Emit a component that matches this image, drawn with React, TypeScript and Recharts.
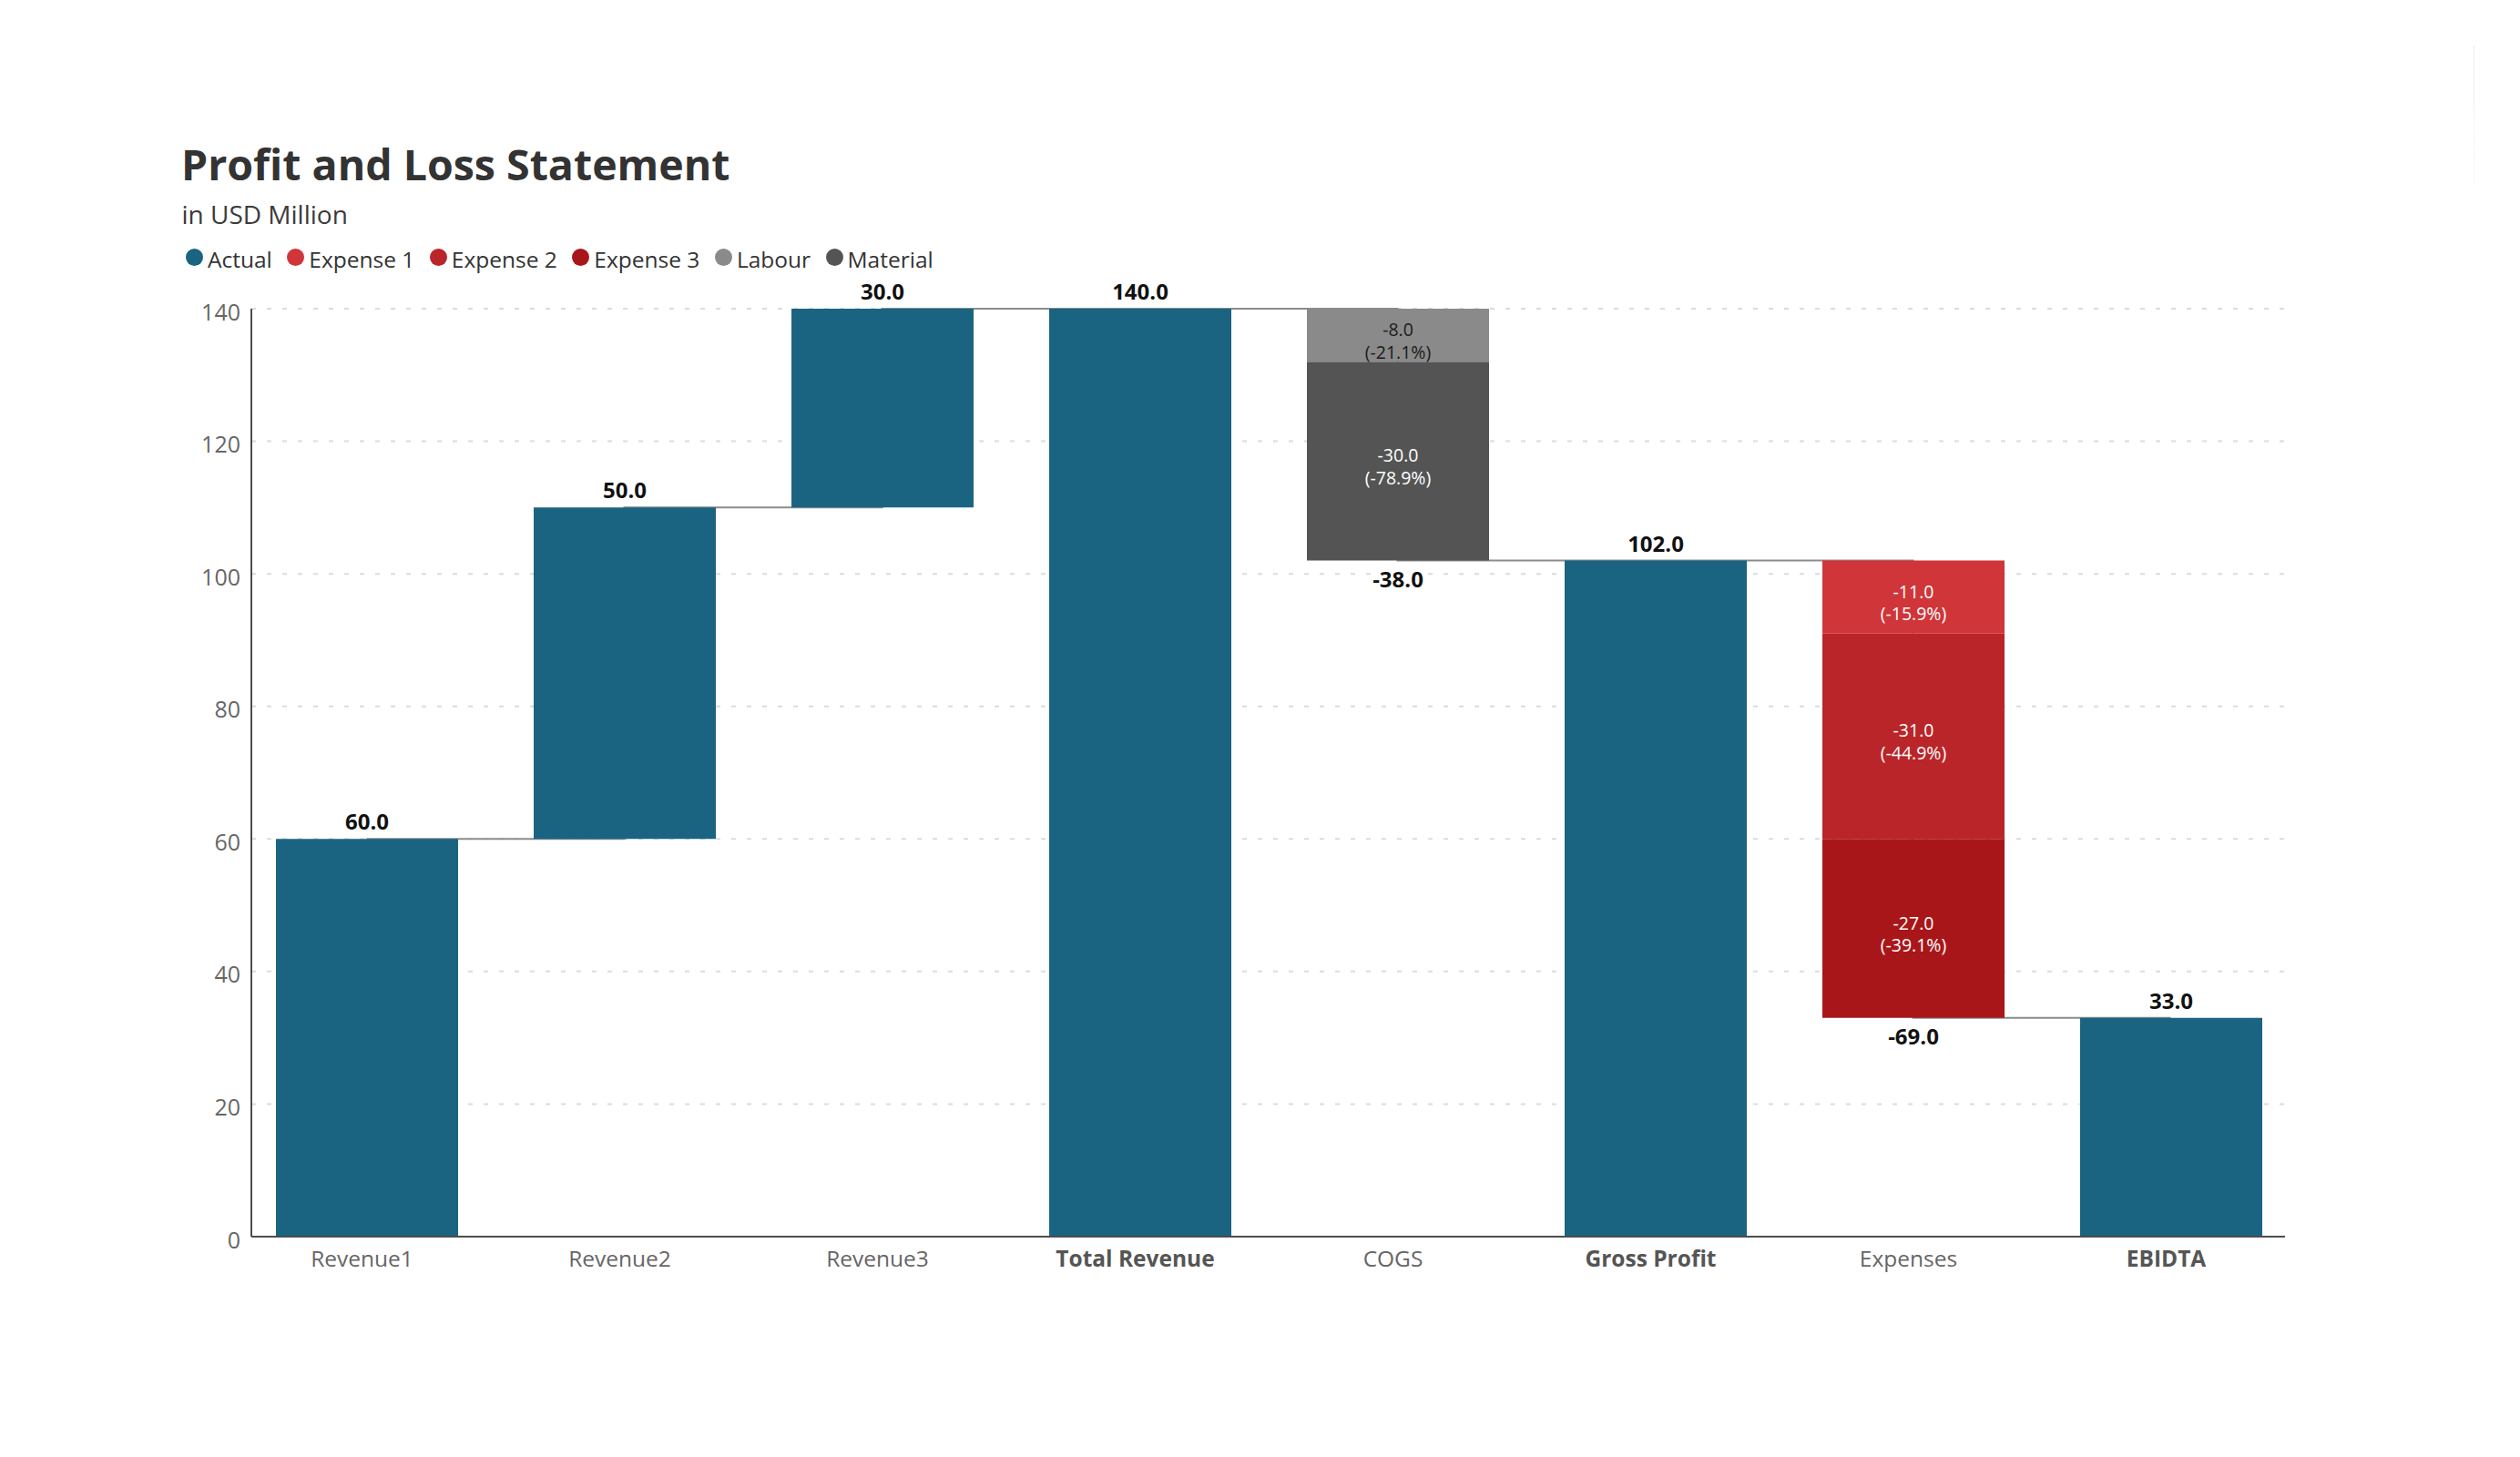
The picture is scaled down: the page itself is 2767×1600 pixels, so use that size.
import { ComposedChart, Bar, Line, XAxis, YAxis, CartesianGrid, LabelList } from 'recharts';

const categories = ['Revenue1', 'Revenue2', 'Revenue3', 'Total Revenue', 'COGS', 'Gross Profit', 'Expenses', 'EBIDTA'];
const totalCategories = ['Total Revenue', 'Gross Profit', 'EBIDTA'];
const actualValues = [60, 50, 30, 140, 0, 102, 0, 33];
const labourValues = [0, 0, 0, 0, -8, 0, 0, 0];
const materialValues = [0, 0, 0, 0, -30, 0, 0, 0];
const expense1Values = [0, 0, 0, 0, 0, 0, -11, 0];
const expense2Values = [0, 0, 0, 0, 0, 0, -31, 0];
const expense3Values = [0, 0, 0, 0, 0, 0, -27, 0];
const yTicks = [0, 20, 40, 60, 80, 100, 120, 140];

const series = [
  { key: 'actual', name: 'Actual', color: '#1a6482' },
  { key: 'expense1', name: 'Expense 1', color: '#cf3539' },
  { key: 'expense2', name: 'Expense 2', color: '#ba2529' },
  { key: 'expense3', name: 'Expense 3', color: '#a91619' },
  { key: 'labour', name: 'Labour', color: '#8a8a8a' },
  { key: 'material', name: 'Material', color: '#545454' },
];
const colorOf = (k: string) => series.find((s) => s.key === k)!.color;

// share of the category's total drop, as "-8.0\n(-21.1%)"
const segText = (v: number, drop: number) =>
  v ? `${v.toFixed(1)}\n(${(-(v / drop) * 100).toFixed(1)}%)` : undefined;

// running totals for the waterfall
const rows = (() => {
  let level = 0;
  return categories.map((name, i) => {
    const segs = [materialValues[i], labourValues[i], expense3Values[i], expense2Values[i], expense1Values[i]];
    const drop = segs.reduce((a, b) => a + b, 0);
    let base = 0;
    if (totalCategories.includes(name)) {
      level = actualValues[i];
    } else if (actualValues[i] > 0) {
      base = level;
      level += actualValues[i];
    } else {
      level += drop;
      base = level;
    }
    return {
      name,
      base,
      actual: actualValues[i],
      material: -materialValues[i],
      labour: -labourValues[i],
      expense3: -expense3Values[i],
      expense2: -expense2Values[i],
      expense1: -expense1Values[i],
      dropText: drop < 0 ? drop.toFixed(1) : undefined,
      materialText: segText(materialValues[i], drop),
      labourText: segText(labourValues[i], drop),
      expense3Text: segText(expense3Values[i], drop),
      expense2Text: segText(expense2Values[i], drop),
      expense1Text: segText(expense1Values[i], drop),
      level,
    };
  });
})();

const FONT = '"Segoe UI", "Open Sans", sans-serif';

function box(p: any) {
  const vb = p.viewBox || {};
  return {
    x: p.x ?? vb.x,
    y: p.y ?? vb.y,
    w: p.width ?? vb.width,
    h: p.height ?? vb.height,
  };
}

function ActualLabel(p: any) {
  const v = Number(p.value);
  if (!v) return null;
  const { x, y, w } = box(p);
  return (
    <text x={x + w / 2} y={y - 10} textAnchor="middle" fontSize={24} fontWeight={700} fill="#111">
      {v.toFixed(1)}
    </text>
  );
}

function DropLabel(p: any) {
  if (p.value === undefined || p.value === null || p.value === '') return null;
  const { x, y, w } = box(p);
  return (
    <text x={x + w / 2} y={y + 29} textAnchor="middle" fontSize={24} fontWeight={700} fill="#111">
      {p.value}
    </text>
  );
}

function segmentLabel(fill: string) {
  return (p: any) => {
    if (typeof p.value !== 'string') return null;
    const [a, b] = p.value.split('\n');
    const { x, y, w, h } = box(p);
    const cx = x + w / 2;
    const cy = y + h / 2;
    return (
      <g>
        <text x={cx} y={cy + 1} textAnchor="middle" fontSize={19.5} fill={fill}>
          {a}
        </text>
        <text x={cx} y={cy + 25.5} textAnchor="middle" fontSize={19.5} fill={fill}>
          {b}
        </text>
      </g>
    );
  };
}

function XTick({ x, y, payload }: any) {
  const bold = totalCategories.includes(payload.value);
  return (
    <text x={x - 5} y={y + 33} textAnchor="middle" fontSize={24.5} fontWeight={bold ? 700 : 400} fill={bold ? '#555' : '#666'}>
      {payload.value}
    </text>
  );
}

function YTick({ x, y, payload }: any) {
  return (
    <text x={x} y={y + 12.5} textAnchor="end" fontSize={25} fill="#666">
      {payload.value}
    </text>
  );
}

function LegendRow() {
  return (
    <div
      style={{
        position: 'absolute',
        left: 204,
        top: 271.8,
        display: 'flex',
        alignItems: 'center',
        gap: 16.5,
        fontSize: 24.5,
        lineHeight: '25px',
        color: '#333',
      }}
    >
      {series.map((s) => (
        <div key={s.key} style={{ display: 'flex', alignItems: 'center' }}>
          <span
            style={{
              width: 19,
              height: 19,
              borderRadius: '50%',
              background: s.color,
              marginRight: 5,
              position: 'relative',
              top: -2,
            }}
          />
          <span>{s.name}</span>
        </div>
      ))}
    </div>
  );
}

export default function App() {
  return (
    <div
      style={{
        position: 'absolute',
        left: 0,
        top: 0,
        width: 2767,
        height: 1600,
        background: '#fff',
        fontFamily: FONT,
        overflow: 'hidden',
      }}
    >
      <div
        style={{
          position: 'absolute',
          left: 199,
          top: 157,
          fontSize: 46.5,
          lineHeight: 1,
          fontWeight: 700,
          color: '#333',
          whiteSpace: 'nowrap',
        }}
      >
        Profit and Loss Statement
      </div>
      <div
        style={{
          position: 'absolute',
          left: 199.5,
          top: 221.1,
          fontSize: 28,
          lineHeight: 1,
          color: '#3b3b3b',
          whiteSpace: 'nowrap',
        }}
      >
        in USD Million
      </div>
      <LegendRow />
      <div style={{ position: 'absolute', left: 2716, top: 50, width: 1, height: 70, background: '#efefef' }} />
      <div style={{ position: 'absolute', left: 2716, top: 120, height: 80, borderLeft: '1px dotted #efefef' }} />

      <div style={{ position: 'absolute', left: 0, top: 0 }}>
        <ComposedChart
          width={2767}
          height={1600}
          data={rows}
          margin={{ top: 339, right: 258, bottom: 202, left: 216 }}
          barSize={200}
        >
          <CartesianGrid vertical={false} stroke="#dcdcdc" strokeDasharray="5 12" strokeWidth={2} />
          <XAxis
            dataKey="name"
            height={40}
            padding={{ left: -15, right: -16 }}
            axisLine={{ stroke: '#4d4d4d', strokeWidth: 2 }}
            tickLine={false}
            tickSize={0}
            tickMargin={0}
            interval={0}
            tick={<XTick />}
          />
          <YAxis
            width={60}
            domain={[0, 140]}
            ticks={yTicks}
            axisLine={{ stroke: '#4d4d4d', strokeWidth: 2 }}
            tickLine={false}
            tickSize={0}
            tickMargin={12}
            tick={<YTick />}
          />
          <Line
            type="stepAfter"
            dataKey="level"
            stroke="#8c8c8c"
            strokeWidth={2}
            dot={false}
            activeDot={false}
            isAnimationActive={false}
            zIndex={250}
          />
          <Bar dataKey="base" stackId="w" fill="transparent" isAnimationActive={false}>
            <LabelList dataKey="dropText" content={DropLabel} />
          </Bar>
          <Bar dataKey="actual" stackId="w" fill={colorOf('actual')} isAnimationActive={false}>
            <LabelList dataKey="actual" content={ActualLabel} />
          </Bar>
          <Bar dataKey="material" stackId="w" fill={colorOf('material')} isAnimationActive={false}>
            <LabelList dataKey="materialText" content={segmentLabel('#fff')} />
          </Bar>
          <Bar dataKey="labour" stackId="w" fill={colorOf('labour')} isAnimationActive={false}>
            <LabelList dataKey="labourText" content={segmentLabel('#1a1a1a')} />
          </Bar>
          <Bar dataKey="expense3" stackId="w" fill={colorOf('expense3')} isAnimationActive={false}>
            <LabelList dataKey="expense3Text" content={segmentLabel('#fff')} />
          </Bar>
          <Bar dataKey="expense2" stackId="w" fill={colorOf('expense2')} isAnimationActive={false}>
            <LabelList dataKey="expense2Text" content={segmentLabel('#fff')} />
          </Bar>
          <Bar dataKey="expense1" stackId="w" fill={colorOf('expense1')} isAnimationActive={false}>
            <LabelList dataKey="expense1Text" content={segmentLabel('#fff')} />
          </Bar>
        </ComposedChart>
      </div>
    </div>
  );
}
